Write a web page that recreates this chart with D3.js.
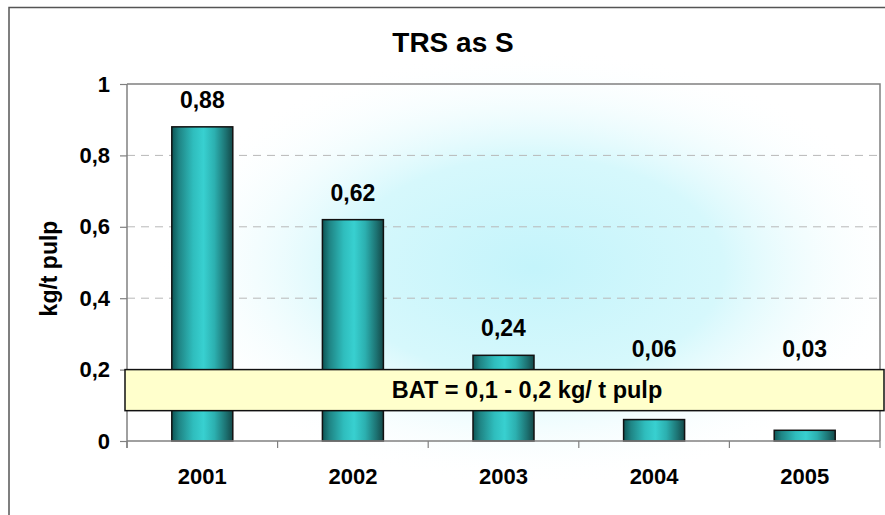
<!DOCTYPE html>
<html><head><meta charset="utf-8">
<script src="https://cdn.jsdelivr.net/npm/d3@7"></script>
<style>body{margin:0;background:#fff}svg{display:block}</style>
</head><body>
<script>
const categories = ["2001","2002","2003","2004","2005"];
const values = [0.88, 0.62, 0.24, 0.06, 0.03];
const valueLabels = ["0,88","0,62","0,24","0,06","0,03"];
const yTicks = [0, 0.2, 0.4, 0.6, 0.8, 1];
const yTickLabels = ["0","0,2","0,4","0,6","0,8","1"];
const batRange = [0.085, 0.2];
const batLabel = "BAT = 0,1 - 0,2 kg/ t pulp";
const title = "TRS as S";
const yTitle = "kg/t pulp";

const W = 885, H = 515;
const m = {left:127, right:5, top:84, bottom:74};
const font = "'Liberation Sans', Arial, sans-serif";

const svg = d3.select("body").append("svg").attr("width", W).attr("height", H);
const defs = svg.append("defs");

const bg = defs.append("radialGradient").attr("id","glow")
  .attr("cx","0.5").attr("cy","0.5").attr("r","0.5");
bg.append("stop").attr("offset","0%").attr("stop-color","#c4f4fb");
bg.append("stop").attr("offset","50%").attr("stop-color","#d6f8fc");
bg.append("stop").attr("offset","100%").attr("stop-color","#ffffff").attr("stop-opacity",0);

const bar = defs.append("linearGradient").attr("id","barg").attr("x1","0").attr("x2","1").attr("y1","0").attr("y2","0");
[["0%","#0d5555"],["12%","#1f8585"],["35%","#2fbdbd"],["52%","#38d0d0"],["70%","#2cb0b0"],["88%","#1d7474"],["100%","#144848"]]
  .forEach(([o,c])=>bar.append("stop").attr("offset",o).attr("stop-color",c));

// outer frame
svg.append("path").attr("d",`M9,${H} L9,7.5 L${W},7.5`).attr("fill","none").attr("stroke","#555").attr("stroke-width",1.5);

const x = d3.scaleBand().domain(categories).range([m.left, W - m.right]).padding(0);
const y = d3.scaleLinear().domain([0,1]).range([H - m.bottom, m.top]);
const bw = x.bandwidth() * 0.405;

// background glow
svg.append("ellipse").attr("cx", (m.left + W - m.right)/2 + 30).attr("cy", y(0.5) + 5)
  .attr("rx", 380).attr("ry", 220).attr("fill","url(#glow)");

// gridlines
svg.append("g").selectAll("line").data(yTicks.filter(d=>d>0 && d<1)).join("line")
  .attr("x1", m.left).attr("x2", W - m.right).attr("y1", d=>y(d)).attr("y2", d=>y(d))
  .attr("stroke","#b8b8b8").attr("stroke-width",1).attr("stroke-dasharray","8,6");

// plot frame (top & right)
svg.append("path").attr("d",`M${m.left},${y(1)} L${W-m.right},${y(1)} L${W-m.right},${y(0)}`)
  .attr("fill","none").attr("stroke","#808080").attr("stroke-width",1.5);

// bars
svg.append("g").selectAll("rect").data(values).join("rect")
  .attr("x",(d,i)=>x(categories[i]) + (x.bandwidth()-bw)/2)
  .attr("y",d=>y(d)).attr("width",bw).attr("height",d=>y(0)-y(d))
  .attr("fill","url(#barg)").attr("stroke","#111").attr("stroke-width",1.5);

// axes
const yAxis = d3.axisLeft(y).tickValues(yTicks).tickFormat((d,i)=>yTickLabels[i]).tickSize(7).tickPadding(10);
const gy = svg.append("g").attr("transform",`translate(${m.left},0)`).call(yAxis);
gy.select(".domain").attr("stroke","#808080").attr("stroke-width",1.5).attr("d",`M0,${y(1)}V${y(0)+7}`);
gy.selectAll(".tick line").attr("stroke","#808080").attr("stroke-width",1.2);
gy.selectAll("text").attr("font-family",font).attr("font-weight","bold").attr("font-size",22).attr("fill","#000");

const xAxis = d3.axisBottom(x).tickSize(0).tickPadding(27);
const gx = svg.append("g").attr("transform",`translate(0,${y(0)})`).call(xAxis);
gx.select(".domain").attr("stroke","#808080").attr("stroke-width",1.5).attr("d",`M${m.left},0H${W-m.right}`);
gx.selectAll("text").attr("font-family",font).attr("font-weight","bold").attr("font-size",22).attr("fill","#000");
svg.append("g").selectAll("line").data(d3.range(categories.length+1)).join("line")
  .attr("x1",i=>m.left + i*x.step()).attr("x2",i=>m.left + i*x.step())
  .attr("y1",y(0)).attr("y2",y(0)+7).attr("stroke","#808080").attr("stroke-width",1.2);

// BAT box
const boxL = m.left - 2, boxR = W - 1;
svg.append("rect").attr("x",boxL).attr("y",y(batRange[1])).attr("width",boxR-boxL)
  .attr("height",y(batRange[0])-y(batRange[1])).attr("fill","#ffffcc").attr("stroke","#111").attr("stroke-width",1.5);
svg.append("text").attr("x",527).attr("y",(y(batRange[0])+y(batRange[1]))/2 + 7.5)
  .attr("text-anchor","middle").attr("font-family",font).attr("font-weight","bold").attr("font-size",23.5).text(batLabel);

// value labels
svg.append("g").selectAll("text").data(values).join("text")
  .attr("x",(d,i)=>x(categories[i]) + x.bandwidth()/2)
  .attr("y",d=>Math.min(y(d) - 19, y(batRange[1]) - 13))
  .attr("text-anchor","middle").attr("font-family",font).attr("font-weight","bold").attr("font-size",23)
  .text((d,i)=>valueLabels[i]);

// title
svg.append("text").attr("x",453).attr("y",52).attr("text-anchor","middle")
  .attr("font-family",font).attr("font-weight","bold").attr("font-size",28).text(title);

// y title
svg.append("text").attr("transform",`translate(57,${y(0.5)+6}) rotate(-90)`).attr("text-anchor","middle")
  .attr("font-family",font).attr("font-weight","bold").attr("font-size",23).text(yTitle);
</script>
</body></html>
